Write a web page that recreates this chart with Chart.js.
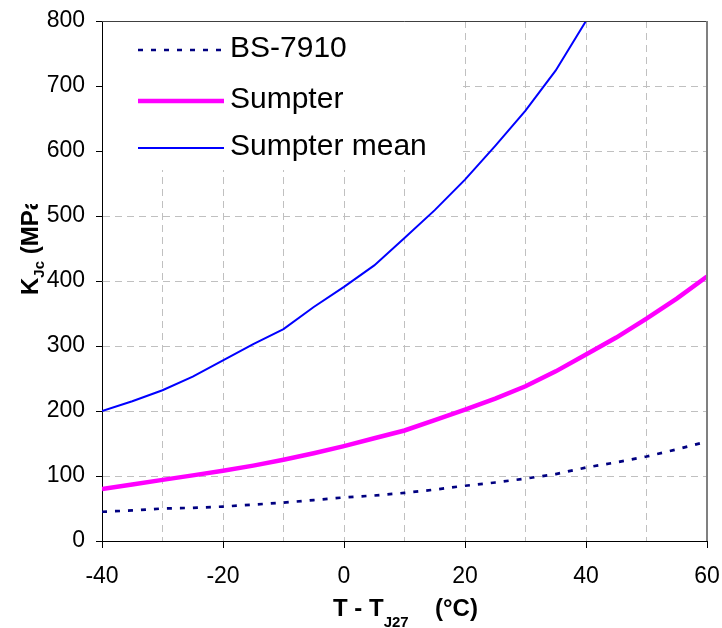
<!DOCTYPE html>
<html>
<head>
<meta charset="utf-8">
<script src="https://cdn.jsdelivr.net/npm/chart.js@4"></script>
<style>
  html, body { margin: 0; padding: 0; background: #fff; }
  canvas { display: block; }
</style>
</head>
<body>
<canvas id="kjcChart" width="722" height="628"></canvas>
<script>
// Temperature offsets T - TJ27 (°C)
const temps = [-40, -35, -30, -25, -20, -15, -10, -5, 0, 5, 10, 15, 20, 25, 30, 35, 40, 45, 50, 55, 60];
const bs7910 = [45, 47, 50, 51, 53, 56, 59, 63, 67, 70, 74, 79, 85, 90, 96, 103, 113, 121, 130, 141, 153];
const sumpter = [80, 87, 94, 101, 108, 116, 125, 135, 146, 158, 170, 186, 202, 219, 238, 261, 287, 313, 342, 373, 407];

// Mean curve runs off the top of the plot past +40
const meanTemps = [-40, -35, -30, -25, -20, -15, -10, -5, 0, 5, 10, 15, 20, 25, 30, 35, 40];
const sumpterMean = [200, 215, 232, 253, 278, 303, 326, 360, 391, 424, 466, 509, 556, 608, 662, 724, 800];

const seriesLabels = ['BS-7910', 'Sumpter', 'Sumpter mean'];
const xTicks = { min: -40, max: 60, step: 10, labelStep: 20 };
const yTicks = { min: 0, max: 800, step: 100 };

const toPoints = (xs, ys) => xs.map((x, i) => ({ x: x, y: ys[i] }));

// Legend sits inside the plot, top-left, on a white box
const insideLegend = {
    id: 'insideLegend',
    afterDatasetsDraw(chart) {
        const ctx = chart.ctx;
        const area = chart.chartArea;
        ctx.save();
        ctx.fillStyle = '#fff';
        ctx.fillRect(area.left + 1, area.top + 1, 355, 148);

        const rows = [50, 101, 148];
        ctx.font = '30px "Liberation Sans", Arial, sans-serif';
        ctx.textBaseline = 'middle';
        ctx.textAlign = 'left';
        chart.data.datasets.forEach((ds, i) => {
            const y = rows[i];
            ctx.beginPath();
            ctx.strokeStyle = ds.borderColor;
            ctx.lineWidth = ds.borderWidth;
            ctx.setLineDash(ds.borderDash || []);
            ctx.moveTo(138, y);
            ctx.lineTo(224, y);
            ctx.stroke();
            ctx.setLineDash([]);
            ctx.fillStyle = '#000';
            ctx.fillText(ds.label, 230, y - 1);
        });
        ctx.restore();
    },
    afterDraw(chart) {
        const ctx = chart.ctx;
        const area = chart.chartArea;
        ctx.save();
        // top and right edges of the plot frame
        ctx.strokeStyle = '#404040';
        ctx.lineWidth = 1;
        ctx.beginPath();
        ctx.moveTo(area.left, area.top + 0.5);
        ctx.lineTo(area.right, area.top + 0.5);
        ctx.stroke();
        ctx.strokeStyle = '#808080';
        ctx.lineWidth = 2;
        ctx.beginPath();
        ctx.moveTo(area.right, area.top);
        ctx.lineTo(area.right, area.bottom);
        ctx.stroke();
        ctx.restore();
    }
};

// Axis titles need subscripts, so they are drawn by hand
const axisTitles = {
    id: 'axisTitles',
    afterDraw(chart) {
        const ctx = chart.ctx;
        const big = 'bold 24px "Liberation Sans", Arial, sans-serif';
        const small = 'bold 15px "Liberation Sans", Arial, sans-serif';
        ctx.save();
        ctx.fillStyle = '#000';
        ctx.textAlign = 'left';
        ctx.textBaseline = 'alphabetic';

        // x title
        let x = 333;
        ctx.font = big;
        ctx.fillText('T - T', x, 616);
        x += ctx.measureText('T - T').width;
        ctx.font = small;
        ctx.fillText('J27', x, 627);
        ctx.font = big;
        ctx.fillText('(°C)', 435, 616);

        // y title, clipped at its box edge
        ctx.beginPath();
        ctx.rect(0, 204, 60, 200);
        ctx.clip();
        ctx.translate(38, 295);
        ctx.rotate(-Math.PI / 2);
        let t = 0;
        ctx.font = big;
        ctx.fillText('K', t, 0);
        t += ctx.measureText('K').width;
        ctx.font = small;
        ctx.fillText('Jc', t, 6);
        t += ctx.measureText('Jc').width;
        ctx.font = big;
        ctx.fillText(' (MPa\u221Am)', t, 0);
        ctx.restore();
    }
};

const gridDash = [7, 5];

new Chart(document.getElementById('kjcChart'), {
    type: 'line',
    data: {
        datasets: [
            {
                label: seriesLabels[0],
                data: toPoints(temps, bs7910),
                borderColor: '#000080',
                borderWidth: 2.7,
                borderDash: [5, 8],
                pointRadius: 0,
                tension: 0,
                fill: false
            },
            {
                label: seriesLabels[1],
                data: toPoints(temps, sumpter),
                borderColor: '#ff00ff',
                borderWidth: 4.5,
                pointRadius: 0,
                tension: 0,
                fill: false
            },
            {
                label: seriesLabels[2],
                data: toPoints(meanTemps, sumpterMean),
                borderColor: '#0000ff',
                borderWidth: 2,
                pointRadius: 0,
                tension: 0,
                fill: false
            }
        ]
    },
    options: {
        responsive: false,
        animation: false,
        devicePixelRatio: 1,
        layout: { padding: { top: 21, right: 15, left: 0, bottom: 0 } },
        plugins: {
            legend: { display: false },
            tooltip: { enabled: false }
        },
        scales: {
            x: {
                type: 'linear',
                min: xTicks.min,
                max: xTicks.max,
                afterFit: function(scale) {
                    scale.height = 87;
                    scale.paddingLeft = 0;
                    scale.paddingRight = 0;
                },
                ticks: {
                    stepSize: xTicks.step,
                    autoSkip: false,
                    maxRotation: 0,
                    padding: 15,
                    color: '#000',
                    font: { family: '"Liberation Sans", Arial, sans-serif', size: 23 },
                    callback: function(value) {
                        return value % xTicks.labelStep === 0 ? value : '';
                    }
                },
                grid: {
                    color: function(c) {
                        return c.tick && (c.tick.value === xTicks.max || c.tick.value === xTicks.min) ? 'transparent' : '#c0c0c0';
                    },
                    tickColor: function(c) {
                        return c.tick && c.tick.value % xTicks.labelStep !== 0 ? 'transparent' : '#000';
                    },
                    tickLength: 7,
                    lineWidth: 1
                },
                border: { display: true, color: '#000', width: 1, dash: gridDash }
            },
            y: {
                min: yTicks.min,
                max: yTicks.max,
                afterFit: function(scale) {
                    scale.width = 102;
                    scale.paddingTop = 0;
                    scale.paddingBottom = 0;
                },
                ticks: {
                    stepSize: yTicks.step,
                    padding: 11,
                    color: '#000',
                    font: { family: '"Liberation Sans", Arial, sans-serif', size: 23 }
                },
                grid: {
                    color: function(c) {
                        return c.tick && (c.tick.value === yTicks.max || c.tick.value === yTicks.min) ? 'transparent' : '#c0c0c0';
                    },
                    tickColor: '#000',
                    tickLength: 6,
                    lineWidth: 1
                },
                border: { display: true, color: '#000', width: 1, dash: gridDash }
            }
        }
    },
    plugins: [insideLegend, axisTitles]
});
</script>
</body>
</html>
